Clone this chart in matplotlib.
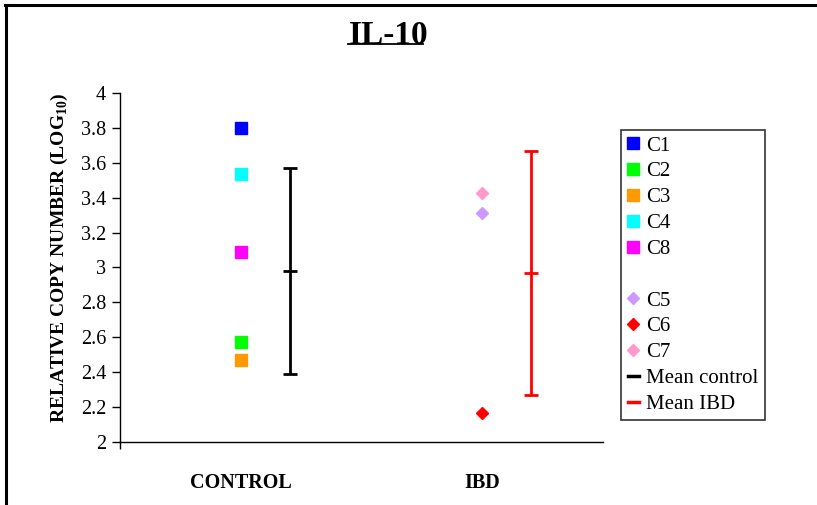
import matplotlib.pyplot as plt
from matplotlib.lines import Line2D

plt.rcParams['font.family'] = ['Liberation Serif', 'DejaVu Serif']
plt.rcParams['mathtext.fontset'] = 'custom'
plt.rcParams['mathtext.rm'] = 'Liberation Serif'
plt.rcParams['mathtext.bf'] = 'Liberation Serif:bold'

# data
categories = ['CONTROL', 'IBD']
control_names = ['C1', 'C2', 'C3', 'C4', 'C8']
control_values = [3.80, 2.575, 2.47, 3.535, 3.09]
control_colors = ['#0000FF', '#00FF00', '#FF9900', '#00FFFF', '#FF00FF']
ibd_names = ['C5', 'C6', 'C7']
ibd_values = [3.315, 2.165, 3.425]
ibd_colors = ['#CC99FF', '#FF0000', '#FF99CC']
mean_control = 2.98
sd_control = 0.59
mean_ibd = 2.967
sd_ibd = 0.70

fig = plt.figure(figsize=(8.17, 5.05), dpi=100)
ax = fig.add_axes([0.1469, 0.1248, 0.5911, 0.691])

handles = []
for name, v, c in zip(control_names, control_values, control_colors):
    h, = ax.plot(0.5, v, 's', color=c, markersize=8.5, label=name)
    handles.append(h)

# empty row in the legend
handles.append(Line2D([], [], linestyle='none', label=' '))

for name, v, c in zip(ibd_names, ibd_values, ibd_colors):
    h, = ax.plot(1.5, v, 'D', color=c, markersize=6.5, label=name)
    handles.append(h)

ax.errorbar(0.5 + 0.205, mean_control, yerr=sd_control, fmt='_', color='black',
            markersize=9.5, mew=2, elinewidth=2, capsize=4.7, capthick=2)
ax.errorbar(1.5 + 0.2, mean_ibd, yerr=sd_ibd, fmt='_', color='#FF0000',
            markersize=9.5, mew=2, elinewidth=2, capsize=4.7, capthick=2)
handles.append(Line2D([], [], color='black', lw=2.5, label='Mean control'))
handles.append(Line2D([], [], color='#FF0000', lw=2.5, label='Mean IBD'))

ax.set_xlim(0, 2)
ax.set_ylim(2, 4)
ax.set_yticks([2, 2.2, 2.4, 2.6, 2.8, 3, 3.2, 3.4, 3.6, 3.8, 4])
ax.set_yticklabels(['2', '2.2', '2.4', '2.6', '2.8', '3', '3.2', '3.4', '3.6', '3.8', '4'])
ax.set_xticks([0.5, 1.5])
ax.set_xticklabels(categories, fontweight='bold', fontsize=14.5)
ax.set_xticks([0], minor=True)
ax.tick_params(axis='x', which='major', length=0, pad=22)
ax.tick_params(axis='x', which='minor', length=5, width=1, direction='out')
ax.tick_params(axis='y', length=6, width=1, direction='out', labelsize=14.5, pad=4)

for s in ['top', 'right']:
    ax.spines[s].set_visible(False)
ax.spines['left'].set_linewidth(1)
ax.spines['bottom'].set_linewidth(1)

ax.set_ylabel('RELATIVE COPY NUMBER (LOG$_{\\mathbf{10}}$)', fontweight='bold',
              fontsize=14)
ax.yaxis.set_label_coords(-0.103, 0.527)

fig.text(0.4755, 0.93, 'IL-10', fontsize=24, fontweight='bold', ha='center', va='center')
fig.add_artist(Line2D([0.426, 0.518], [0.912, 0.912], color='black', lw=1.3))

leg = fig.legend(handles=handles, loc='upper left', bbox_to_anchor=(0.7605, 0.743),
                 fontsize=15, frameon=True, fancybox=False, edgecolor='black',
                 handlelength=0.55, handletextpad=0.35, labelspacing=0.30,
                 borderpad=0.3, borderaxespad=0)
leg.get_frame().set_linewidth(1.2)

# outer frame, only top and left edges show
fig.add_artist(Line2D([0.0065, 1.0], [0.991, 0.991], color='black', lw=2.2))
fig.add_artist(Line2D([0.0072, 0.0072], [0.0, 0.991], color='black', lw=2.2))

fig.savefig('out.png', dpi=100)
